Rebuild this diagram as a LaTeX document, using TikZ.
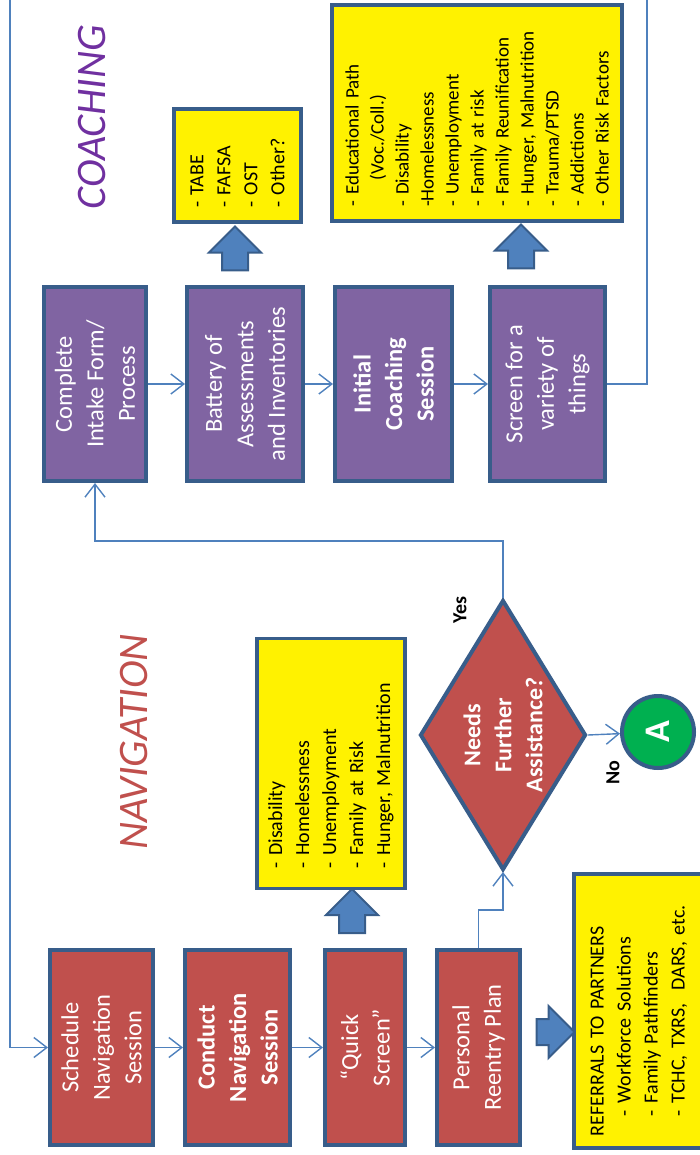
\documentclass[tikz,border=0pt]{standalone}
\usepackage{fontspec}
\setmainfont{Carlito}
\usetikzlibrary{arrows.meta,shapes.geometric,shapes.arrows}

\definecolor{navred}{HTML}{C0504D}
\definecolor{coachpurple}{HTML}{8064A2}
\definecolor{titlepurple}{HTML}{7030A0}
\definecolor{edgeblue}{HTML}{385D8A}
\definecolor{connblue}{HTML}{4F81BD}
\definecolor{greenA}{HTML}{00B050}

\begin{document}
\begin{tikzpicture}[x=1pt, y=-1pt,
    box/.style={rectangle, draw=edgeblue, line width=4pt, rotate=90, align=center,
      text=white, inner sep=2pt, font=\fontsize{24.5}{31.5}\selectfont},
    boldbox/.style={box, font=\fontsize{24.5}{31.5}\selectfont\bfseries},
    note/.style={rectangle, draw=edgeblue, line width=3.5pt, fill=yellow, rotate=90,
      align=left, inner ysep=2pt, font=\fontsize{20}{27}\selectfont},
    conn/.style={draw=connblue, line width=1.4pt, -{Straight Barb[length=13pt,width=20pt]}},
    bigarrow/.style={single arrow, fill=connblue, draw=edgeblue, line width=2pt,
      inner xsep=0pt, inner ysep=12pt, minimum height=44pt, minimum width=50pt,
      single arrow head extend=13pt},
    title/.style={rotate=90, font=\fontsize{42}{50}\selectfont\itshape},
    answer/.style={rotate=90, font=\fontsize{20}{24}\selectfont\bfseries}]

  \useasboundingbox (0,0) rectangle (700,1155);

  % Navigation row
  \node[box, fill=navred, minimum width=195pt, minimum height=103pt] (sched) at (101.5,1047.5) {Schedule\\Navigation\\Session};
  \node[boldbox, fill=navred, minimum width=195pt, minimum height=105pt] (cond) at (237.5,1047.5) {Conduct\\Navigation\\Session};
  \node[box, fill=navred, minimum width=195pt, minimum height=80pt] (quick) at (365,1047.5) {``Quick\\Screen''};
  \node[box, fill=navred, minimum width=195pt, minimum height=83pt] (plan) at (478.5,1047.5) {Personal\\Reentry Plan};

  % Coaching row
  \node[box, fill=coachpurple, minimum width=194pt, minimum height=102pt] (intake) at (95,384) {Complete\\Intake Form/\\Process};
  \node[box, fill=coachpurple, minimum width=194pt, minimum height=116pt] (battery) at (245,384) {Battery of\\Assessments\\and Inventories};
  \node[boldbox, fill=coachpurple, minimum width=194pt, minimum height=117pt] (initial) at (393.5,384) {Initial\\Coaching\\Session};
  \node[box, fill=coachpurple, minimum width=194pt, minimum height=115pt] (screen) at (547.5,384) {Screen for a\\variety of\\things};

  % Titles
  \node[title, text=navred] (navtitle) at (134,742) {NAVIGATION};
  \node[title, text=titlepurple] (coachtitle) at (92,117) {COACHING};

  % Yellow lists
  \node[note, minimum width=249pt, minimum height=148pt, text width=210pt, inner xsep=20pt] (navlist) at (331,763.5)
    {- Disability\\- Homelessness\\- Unemployment\\- Family at Risk\\- Hunger, Malnutrition};
  \node[note, minimum width=113pt, minimum height=127pt, text width=85pt, inner xsep=14pt] (tests) at (237.5,165.5)
    {- TABE\\- FAFSA\\- OST\\- Other?};
  \node[note, minimum width=216pt, minimum height=290pt, text width=188pt, inner xsep=14pt,
    font=\fontsize{19}{25}\selectfont] (risks) at (477,113)
    {- Educational Path\\\hspace*{1.4em}(Voc./Coll.)\\- Disability\\-Homelessness\\- Unemployment\\- Family at risk\\- Family Reunification\\- Hunger, Malnutrition\\- Trauma/PTSD\\- Addictions\\- Other Risk Factors};
  \node[note, minimum width=274pt, minimum height=130pt, text width=250pt, inner xsep=10pt] (partners) at (639,1011)
    {REFERRALS TO PARTNERS\\\hspace*{1em}- Workforce Solutions\\\hspace*{1em}- Family Pathfinders\\\hspace*{1em}- TCHC, TXRS,~~DARS, etc.};

  % Decision
  \node[diamond, rotate=90, fill=navred, draw=edgeblue, line width=4pt, text=white, align=center,
    inner sep=0pt, aspect=1.63, minimum width=270pt, minimum height=166pt,
    font=\fontsize{24}{31}\selectfont\bfseries] (needs) at (503,735) {Needs\\Further\\Assistance?};
  \node[circle, rotate=90, fill=greenA, draw=edgeblue, line width=4pt, text=white, minimum size=72pt,
    inner sep=0pt, font=\fontsize{36}{40}\selectfont\bfseries] (circA) at (658,732) {A};
  \node[answer] (yes) at (460,610) {Yes};
  \node[answer] (no) at (613,773) {No};

  % Block arrows
  \node[bigarrow, rotate=90] (qsarrow) at (352,917.5) {};
  \node[bigarrow, rotate=90] (batarrow) at (235,255) {};
  \node[bigarrow, rotate=90] (scrarrow) at (521,253) {};
  \node[bigarrow, minimum height=38pt] (planarrow) at (549,1032) {};

  % Connectors
  \coordinate (topR) at (647,-10);
  \coordinate (topL) at (10,-10);
  \draw[conn] (sched) -- (cond);
  \draw[conn] (cond) -- (quick);
  \draw[conn] (quick) -- (plan);
  \draw[conn] (plan.east) -- ++(0,-38) -| (needs.west);
  \draw[conn] (needs.east) -- ++(0,-57) -| (intake.west);
  \draw[conn] (needs.south) -- (circA);
  \draw[conn] (intake) -- (battery);
  \draw[conn] (battery) -- (initial);
  \draw[conn] (initial) -- (screen);
  \draw[conn] (screen.south) -| (topR) -- (topL) |- (sched.north);

\end{tikzpicture}
\end{document}
